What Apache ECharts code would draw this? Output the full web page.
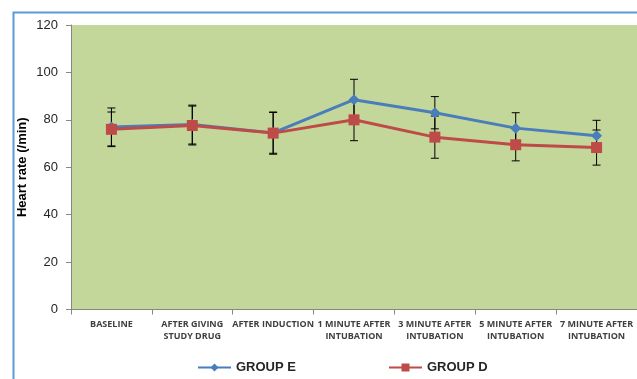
<!DOCTYPE html>
<html>
<head>
<meta charset="utf-8">
<script src="https://cdn.jsdelivr.net/npm/echarts@6/dist/echarts.min.js"></script>
<style>
  html, body { margin: 0; padding: 0; background: #ffffff; }
  #chart { width: 637px; height: 379px; }
</style>
</head>
<body>
<div id="chart"></div>
<script>
// Time points of measurement
const categories = [
  'BASELINE',
  'AFTER GIVING\nSTUDY DRUG',
  'AFTER INDUCTION',
  '1 MINUTE AFTER\nINTUBATION',
  '3 MINUTE AFTER\nINTUBATION',
  '5 MINUTE AFTER\nINTUBATION',
  '7 MINUTE AFTER\nINTUBATION'
];

// Mean heart rate (/min)
const groupE = [77, 78, 74.5, 88.5, 83, 76.5, 73.3];
const groupD = [76, 77.6, 74.4, 80, 72.7, 69.5, 68.3];

// Standard deviations
const sdE = [8, 8.2, 8.6, 8.6, 6.8, 6.5, 6.5];
const sdD = [7.3, 8.2, 8.9, 8.8, 8.9, 6.8, 7.4];

const yTicks = { min: 0, max: 120, interval: 20 };

function errorData(means, sds) {
  return means.map((m, i) => [i, m - sds[i], m + sds[i]]);
}

function renderError(params, api) {
  const x = api.value(0);
  const lo = api.coord([x, api.value(1)]);
  const hi = api.coord([x, api.value(2)]);
  const cap = 4;
  const style = { stroke: '#000000', lineWidth: 1 };
  return {
    type: 'group',
    children: [
      { type: 'line', shape: { x1: hi[0], y1: hi[1], x2: lo[0], y2: lo[1] }, style },
      { type: 'line', shape: { x1: hi[0] - cap, y1: hi[1], x2: hi[0] + cap, y2: hi[1] }, style },
      { type: 'line', shape: { x1: lo[0] - cap, y1: lo[1], x2: lo[0] + cap, y2: lo[1] }, style }
    ]
  };
}

const chart = echarts.init(document.getElementById('chart'), null, { renderer: 'canvas' });

const legendText = { fontFamily: 'Liberation Sans, Arial, sans-serif', fontSize: 13, fontWeight: 'bold', color: '#262626' };

chart.setOption({
  animation: false,
  backgroundColor: '#ffffff',
  graphic: [
    {
      type: 'rect',
      left: 11, top: 10,
      shape: { width: 700, height: 420 },
      style: { fill: 'none', stroke: '#5b9bd5', lineWidth: 2 },
      z: 100
    }
  ],
  grid: {
    left: 71, top: 25, width: 574, height: 284.5,
    show: true, backgroundColor: '#c4d79b', borderWidth: 0
  },
  legend: [
    {
      data: ['GROUP E'], left: 192, top: 356, itemGap: 0,
      itemWidth: 33, itemHeight: 10, textStyle: legendText
    },
    {
      data: ['GROUP D'], left: 383, top: 356, itemGap: 0,
      itemWidth: 33, itemHeight: 10, textStyle: legendText
    }
  ],
  xAxis: {
    type: 'category',
    data: categories,
    boundaryGap: true,
    axisLine: { lineStyle: { color: '#868686', width: 1 } },
    axisTick: { show: true, length: 5, lineStyle: { color: '#868686' } },
    axisLabel: {
      interval: 0,
      margin: 9,
      fontFamily: 'Open Sans, Liberation Sans, sans-serif',
      fontSize: 9,
      fontWeight: 'bold',
      lineHeight: 12,
      color: '#404040'
    }
  },
  yAxis: {
    type: 'value',
    min: yTicks.min, max: yTicks.max, interval: yTicks.interval,
    name: 'Heart rate (/min)',
    nameLocation: 'middle',
    nameGap: 42,
    nameMoveOverlap: false,
    nameTextStyle: {
      fontFamily: 'Liberation Sans, Arial, sans-serif',
      fontSize: 13, fontWeight: 'bold', color: '#000000'
    },
    axisLine: { show: true, lineStyle: { color: '#868686', width: 1 } },
    axisTick: { show: true, length: 5, lineStyle: { color: '#868686' } },
    splitLine: { show: false },
    axisLabel: {
      margin: 13,
      fontFamily: 'Liberation Sans, Arial, sans-serif',
      fontSize: 13, color: '#262626'
    }
  },
  series: [
    {
      name: 'errE', type: 'custom', renderItem: renderError,
      data: errorData(groupE, sdE), z: 1, silent: true
    },
    {
      name: 'errD', type: 'custom', renderItem: renderError,
      data: errorData(groupD, sdD), z: 1, silent: true
    },
    {
      name: 'GROUP E', type: 'line', data: groupE,
      symbol: 'diamond', symbolSize: 11,
      lineStyle: { color: '#4a7ebb', width: 3 },
      itemStyle: { color: '#4a7ebb' },
      z: 3
    },
    {
      name: 'GROUP D', type: 'line', data: groupD,
      symbol: 'rect', symbolSize: 11,
      lineStyle: { color: '#be4b48', width: 3 },
      itemStyle: { color: '#be4b48' },
      z: 4
    }
  ]
});
</script>
</body>
</html>
